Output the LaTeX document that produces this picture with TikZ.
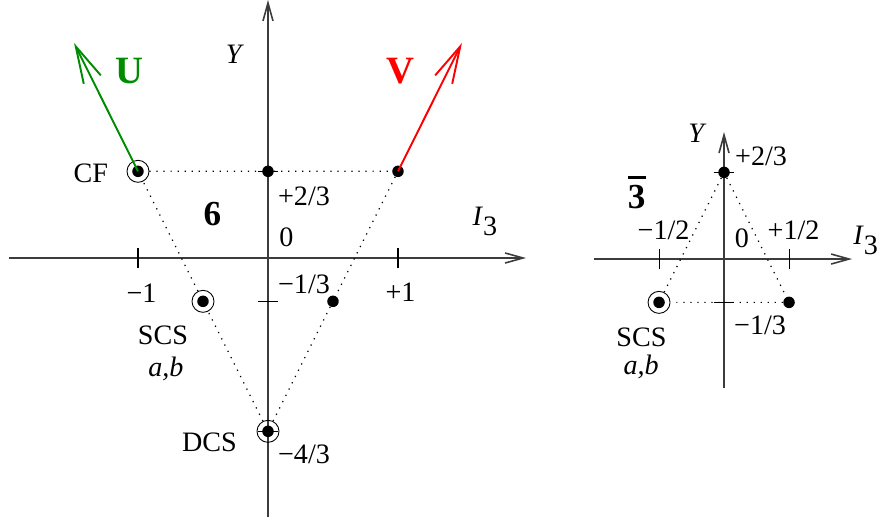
\documentclass[tikz,border=0pt]{standalone}
\usepackage{fontspec}
\setmainfont{Liberation Serif}
\usepackage{xcolor}
\usepackage{tikz}
\usetikzlibrary{arrows.meta, positioning}
\definecolor{u_col}{RGB}{0, 140, 0}
\definecolor{v_col}{RGB}{255, 0, 0}
\definecolor{axis_col}{RGB}{60, 60, 60}
\newcommand{\Ithree}{\textit{I}\raisebox{-0.2cm}{3}}
\newcommand{\antitrip}{\leavevmode\rlap{\rule[0.82em]{0.52em}{1.7pt}}\textbf{3}}

\begin{document}
\begin{tikzpicture}[x=2.6cm, y=2.6cm,
    >={Straight Barb[length=0.36cm, width=0.2cm]},
    font=\fontsize{16}{19}\selectfont,
    every node/.style={align=center},
    axis/.style={->, draw=axis_col, line width=0.9pt},
    tick/.style={draw=black, line width=0.6pt},
    weight/.style={circle, fill=black, inner sep=0pt, minimum size=0.23cm},
    ringed/.style={circle, draw=black, line width=0.5pt, inner sep=0pt,
        minimum size=0.44cm,
        path picture={\fill[black] (path picture bounding box.center) circle (0.115cm);}},
    edge/.style={draw=black, line width=0.7pt, dash pattern=on 0.7pt off 3.3pt},
    quark/.style={line width=1.1pt, -{Straight Barb[length=0.74cm, width=0.38cm]}},
    big/.style={font=\fontsize{22}{26}\selectfont\bfseries}]
  \useasboundingbox (-2.0615,-2.0385) rectangle (4.7077,1.9846);

  % sextet
  \draw[axis] (-1.99,0) -- (1.985,0);
  \draw[axis] (0,-1.99) -- (0,1.985);
  \foreach \x in {-1,1} \draw[tick] (\x,-0.08) -- (\x,0.08);
  \foreach \y in {2/3,-1/3,-4/3} \draw[tick] (-0.08,\y) -- (0.08,\y);

  \node[ringed] (cf) at (-1,2/3) {};
  \node[weight] (midtop) at (0,2/3) {};
  \node[weight] (rtop) at (1,2/3) {};
  \node[ringed] (scs) at (-1/2,-1/3) {};
  \node[weight] (rmid) at (1/2,-1/3) {};
  \node[ringed] (dcs) at (0,-4/3) {};

  \draw[edge] (cf) -- (midtop) -- (rtop) -- (rmid) -- (dcs) -- (scs) -- (cf);

  \coordinate (utip) at (-1.492,1.654);
  \coordinate (vtip) at (1.492,1.654);
  \draw[quark, u_col] (cf.center) -- (utip);
  \draw[quark, v_col] (rtop.center) -- (vtip);

  \node[big, text=u_col] (ulab) at (-1.062,1.435) {U};
  \node[big, text=v_col] (vlab) at (1.019,1.435) {V};
  \node (ylab) at (-0.254,1.569) {\textit{Y}};
  \node (cflab) at (-1.362,0.654) {CF};
  \node[font=\fontsize{20}{24}\selectfont\bfseries] (sixlab) at (-0.427,0.338) {6};
  \node (ptwo) at (0.277,0.477) {+2/3};
  \node (zero) at (0.142,0.162) {0};
  \node (ithree) at (1.669,0.281) {\Ithree};
  \node (mone) at (-0.973,-0.273) {−1};
  \node (pone) at (1.019,-0.265) {+1};
  \node (mthird) at (0.277,-0.2) {−1/3};
  \node (scslab) at (-0.808,-0.592) {SCS};
  \node (ablab) at (-0.785,-0.854) {\textit{a,b}};
  \node (dcslab) at (-0.45,-1.415) {DCS};
  \node (mfour) at (0.277,-1.508) {−4/3};

  % antitriplet
  \begin{scope}[shift={(3.508,-0.008)}]
    \draw[axis] (-1.0,0) -- (0.985,0);
    \draw[axis] (0,-0.992) -- (0,0.977);
    \foreach \x in {-1/2,1/2} \draw[tick] (\x,-0.08) -- (\x,0.08);
    \foreach \y in {2/3,-1/3} \draw[tick] (-0.08,\y) -- (0.08,\y);

    \node[weight] (ttop) at (0,2/3) {};
    \node[ringed] (tscs) at (-1/2,-1/3) {};
    \node[weight] (tright) at (1/2,-1/3) {};

    \draw[edge] (ttop) -- (tright) -- (tscs) -- (ttop);

    \node (tylab) at (-0.204,0.965) {\textit{Y}};
    \node (tptwo) at (0.285,0.792) {+2/3};
    \node[font=\fontsize{20}{24}\selectfont] (tbar) at (-0.673,0.512) {\antitrip};
    \node (tmhalf) at (-0.465,0.223) {−1/2};
    \node (tzero) at (0.138,0.158) {0};
    \node (tphalf) at (0.535,0.223) {+1/2};
    \node (tithree) at (1.09,0.147) {\Ithree};
    \node (tmthird) at (0.277,-0.508) {−1/3};
    \node (tscslab) at (-0.635,-0.6) {SCS};
    \node (tablab) at (-0.638,-0.831) {\textit{a,b}};
  \end{scope}
\end{tikzpicture}
\end{document}
